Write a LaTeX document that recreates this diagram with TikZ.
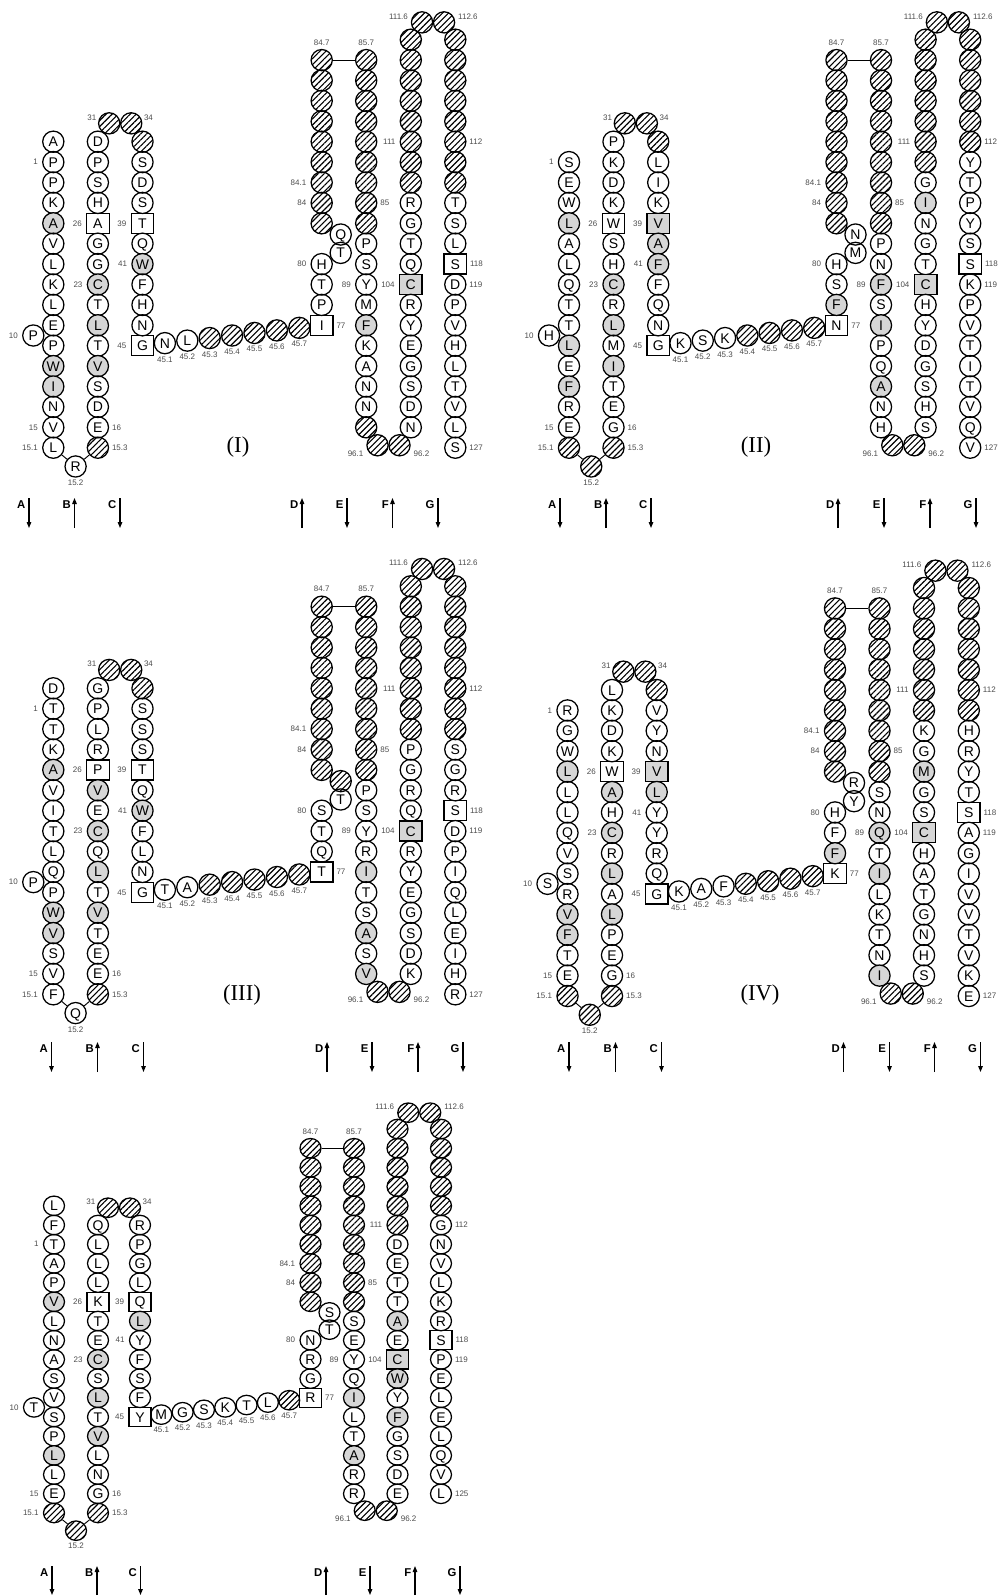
\documentclass[tikz,border=0pt]{standalone}
\usepackage{fontspec}
\setmainfont{Liberation Sans}
\newfontfamily\romanfont{Liberation Serif}
\usetikzlibrary{shapes.geometric,patterns.meta,arrows.meta}
\definecolor{shadeg}{gray}{0.84}
\definecolor{labg}{gray}{0.3}
\newcount\labn
\def\SY{20.4}\def\BW{15.9pt}\def\BH{15.9pt}\def\SW{16.9pt}\def\SH{15pt}
\tikzset{
 beadbase/.style={draw, line width=0.95pt, inner sep=0pt, text height=7.5pt, text depth=0pt, font=\fontsize{10.5}{10.5}\selectfont},
 bead/.style={beadbase, ellipse, minimum width=\BW, minimum height=\BH},
 bead-n/.style={bead},
 bead-s/.style={bead, fill=shadeg},
 sqb/.style={beadbase, rectangle, minimum width=\SW, minimum height=\SH},
 bead-q/.style={sqb},
 bead-Q/.style={sqb, fill=shadeg},
 hatchb/.style={bead, pattern={Lines[angle=45,distance=3.2pt,line width=0.85pt]}},
 lbl/.style={font=\fontsize{6}{6}\selectfont, text=labg, inner sep=0pt},
 link/.style={line width=0.7pt},
 strand/.style={line width=0.9pt, -{Triangle[length=4.5pt,width=3.4pt]}},
 strandlbl/.style={font=\fontsize{8.5}{8.5}\selectfont\bfseries, inner sep=0pt},
 plab/.style={font=\romanfont\fontsize{17}{17}\selectfont, inner sep=0pt},
}
\newcommand\setP[9]{\def\Px{#1}\def\XA{#2}\def\XB{#3}\def\XC{#4}\def\XD{#5}\def\XE{#6}\def\XF{#7}\def\XG{#8}\def\YZ{#9}}
\newcommand\Yr[1]{\YZ+\SY*(#1)}
\newcommand\bdx[5]{\if#1h\node[hatchb] (#2) at ({#3},{#4}) {};\else\node[bead-#1] (#2) at ({#3},{#4}) {#5};\fi}
\newcommand\colm[3]{\edef\cx{\csname X#1\endcsname}%
 \foreach \lt/\ty [count=\i from 0] in {#3}{\pgfmathtruncatemacro\rr{#2+\i}\expandafter\bdx\ty{\Px#1\rr}{\cx}{\Yr{\rr}}{\lt}}}
\newcommand\chain[1]{\foreach \lt/\ty [count=\i] in {#1}{\expandafter\bdx\ty{\Px h\i}{\XC+(\XD-\XC)*\i/8}{\Yr{10-\i/8}}{\lt}}}
\newcommand\labx[3]{\global\advance\labn by 1\relax\node[lbl,anchor=#1] (lab\the\labn) at (#2) {#3};}
\newcommand\stdlabels[2]{%
 \labx{east}{[xshift=-3pt]\Px A1.west}{1}
 \labx{east}{[xshift=-3pt]\Px A14.west}{15}
 \labx{east}{[xshift=-3pt]\Px A15.west}{15.1}
 \labx{east}{[xshift=-3pt]\Px t10.west}{10}
 \labx{north}{[yshift=-1.5pt]\Px t152.south}{15.2}
 \labx{east}{[xshift=-3pt]\Px B4.west}{26}
 \labx{east}{[xshift=-3pt]\Px B7.west}{23}
 \labx{west}{[xshift=2pt]\Px B14.east}{16}
 \labx{west}{[xshift=2pt]\Px B15.east}{15.3}
 \labx{east}{[xshift=-1pt,yshift=4.5pt]\Px t31.west}{31}
 \labx{west}{[xshift=1pt,yshift=4.5pt]\Px t34.east}{34}
 \labx{east}{[xshift=-3pt]\Px C4.west}{39}
 \labx{east}{[xshift=-3pt]\Px C6.west}{41}
 \labx{east}{[xshift=-3pt]\Px C10.west}{45}
 \foreach \i in {1,...,7}{\labx{north}{[yshift=-1.5pt]\Px h\i.south}{45.\i}}
 \labx{west}{[xshift=2pt]\Px D9.east}{77}
 \labx{east}{[xshift=-3pt]\Px D6.west}{80}
 \labx{east}{[xshift=-3pt]\Px D3.west}{84}
 \labx{east}{[xshift=-3pt]\Px D2.west}{84.1}
 \labx{south}{[yshift=2.5pt]\Px D-4.north}{84.7}
 \labx{south}{[yshift=2.5pt]\Px E-4.north}{85.7}
 \labx{west}{[xshift=2pt]\Px E3.east}{85}
 \labx{east}{[xshift=-3pt]\Px E7.west}{89}
 \labx{east}{[xshift=-3pt]\Px F7.west}{104}
 \labx{east}{[xshift=-3pt]\Px F0.west}{111}
 \labx{east}{[xshift=-2pt,yshift=-6pt]\Px t961.west}{96.1}
 \labx{west}{[xshift=2pt,yshift=-6pt]\Px t962.east}{96.2}
 \labx{east}{[xshift=-2pt,yshift=4.5pt]\Px t1116.west}{111.6}
 \labx{west}{[xshift=2pt,yshift=4.5pt]\Px t1126.east}{112.6}
 \labx{west}{[xshift=2pt]\Px G0.east}{112}
 \labx{west}{[xshift=2pt]\Px G6.east}{118}
 \labx{west}{[xshift=2pt]\Px G7.east}{119}
 \labx{west}{[xshift=2pt]\Px G#1.east}{#2}
}
\newcommand\extras[6]{% t10, t152, t152type, t81, t82, t82type
 \bdx{n}{\Px t10}{\XA-20}{\Yr{9.5}}{#1}
 \bdx{#3}{\Px t152}{(\XA+\XB)/2}{\Yr{15.92}}{#2}
 \bdx{h}{\Px t31}{(\XB+\XC)/2-11}{\Yr{-0.9}}{}
 \bdx{h}{\Px t34}{(\XB+\XC)/2+11}{\Yr{-0.9}}{}
 \bdx{n}{\Px t81}{\XD+19}{\Yr{5.45}}{#4}
 \bdx{#6}{\Px t82}{\XD+19}{\Yr{4.55}}{#5}
 \bdx{h}{\Px t961}{(\XE+\XF)/2-11}{\Yr{14.88}}{}
 \bdx{h}{\Px t962}{(\XE+\XF)/2+11}{\Yr{14.88}}{}
 \bdx{h}{\Px t1116}{(\XF+\XG)/2-11}{\Yr{-5.85}}{}
 \bdx{h}{\Px t1126}{(\XF+\XG)/2+11}{\Yr{-5.85}}{}
 \draw[link] (\Px A15) -- (\Px t152) -- (\Px B15);
 \draw[link] (\Px D-4) -- (\Px E-4);
}
\newcommand\strands[3]{\foreach \SL/\xx/\dd in {#3}{%
 \coordinate (\Px s\SL t) at (\xx,#1);
 \coordinate (\Px s\SL b) at (\xx,#2);
 \node[strandlbl,anchor=north east] (\Px sl\SL) at ([xshift=-2.5pt,yshift=-2pt]\Px s\SL t) {\SL};
 \if\dd u\draw[strand] (\Px s\SL b) -- (\Px s\SL t);\else\draw[strand] (\Px s\SL t) -- (\Px s\SL b);\fi}}
\begin{document}
\begin{tikzpicture}[x=0.75pt,y=-0.75pt]
\useasboundingbox (0,0) rectangle (1000,1596);
% ---------------- Panel I
\setP{p1}{53.3}{97.9}{142.5}{321.7}{366.2}{410.8}{455.3}{141.7}
\colm{A}{0}{A/n,P/n,P/n,K/n,A/s,V/n,L/n,K/n,L/n,E/n,P/n,W/s,I/s,N/n,V/n,L/n}
\colm{B}{0}{D/n,P/n,S/n,H/n,A/q,G/n,G/n,C/s,T/n,L/s,T/n,V/s,S/n,D/n,E/n,x/h}
\colm{C}{0}{x/h,S/n,D/n,S/n,T/q,Q/n,W/s,F/n,H/n,N/n,G/q}
\colm{D}{-4}{x/h,x/h,x/h,x/h,x/h,x/h,x/h,x/h,x/h}
\colm{D}{6}{H/n,T/n,P/n,I/q}
\colm{E}{-4}{x/h,x/h,x/h,x/h,x/h,x/h,x/h,x/h,x/h,P/n,S/n,Y/n,M/n,F/s,K/n,A/n,N/n,N/n,x/h}
\colm{F}{-5}{x/h,x/h,x/h,x/h,x/h,x/h,x/h,x/h,R/n,G/n,T/n,Q/n,C/Q,R/n,Y/n,E/n,G/n,S/n,D/n,N/n}
\colm{G}{-5}{x/h,x/h,x/h,x/h,x/h,x/h,x/h,x/h,T/n,S/n,L/n,S/q,D/n,P/n,V/n,H/n,L/n,T/n,V/n,L/n,S/n}
\chain{N/n,L/n,x/h,x/h,x/h,x/h,x/h}
\extras{P}{R}{n}{T}{Q}{n}
\stdlabels{15}{127}
\node[plab] (p1name) at (238,447) {(I)};
\strands{498}{528}{A/29/d,B/74.5/u,C/120/d,D/302/u,E/347/d,F/392.5/u,G/438/d}
% ---------------- Panel II
\setP{p2}{569}{613.5}{658.2}{836.5}{881}{925.6}{970.2}{141.7}
\colm{A}{1}{S/n,E/n,W/n,L/s,A/n,L/n,Q/n,T/n,T/n,L/s,E/n,F/s,R/n,E/n,x/h}
\colm{B}{0}{P/n,K/n,D/n,K/n,W/q,S/n,H/n,C/s,R/n,L/s,M/n,I/s,T/n,E/n,G/n,x/h}
\colm{C}{0}{x/h,L/n,I/n,K/n,V/Q,A/s,F/s,F/n,Q/n,N/n,G/q}
\colm{D}{-4}{x/h,x/h,x/h,x/h,x/h,x/h,x/h,x/h,x/h}
\colm{D}{6}{H/n,S/n,F/s,N/q}
\colm{E}{-4}{x/h,x/h,x/h,x/h,x/h,x/h,x/h,x/h,x/h,P/n,N/n,F/s,S/n,I/s,P/n,Q/n,A/s,N/n,H/n}
\colm{F}{-5}{x/h,x/h,x/h,x/h,x/h,x/h,x/h,G/n,I/s,N/n,G/n,T/n,C/Q,H/n,Y/n,D/n,G/n,S/n,H/n,S/n}
\colm{G}{-5}{x/h,x/h,x/h,x/h,x/h,x/h,Y/n,T/n,P/n,Y/n,S/n,S/q,K/n,P/n,V/n,T/n,I/n,T/n,V/n,Q/n,V/n}
\chain{K/n,S/n,K/n,x/h,x/h,x/h,x/h}
\extras{H}{}{h}{M}{N}{n}
\stdlabels{15}{127}
\node[plab] (p2name) at (756,447) {(II)};
\strands{498}{528}{A/560/d,B/606/u,C/651/d,D/838/u,E/884/d,F/930/u,G/976/d}
% ---------------- Panel III
\setP{p3}{53.3}{97.9}{142.5}{321.7}{366.2}{410.8}{455.3}{688.3}
\colm{A}{0}{D/n,T/n,T/n,K/n,A/s,V/n,I/n,T/n,L/n,Q/n,P/n,W/s,V/s,S/n,V/n,F/n}
\colm{B}{0}{G/n,P/n,L/n,R/n,P/q,V/s,E/n,C/s,Q/n,L/s,T/n,V/s,T/n,E/n,E/n,x/h}
\colm{C}{0}{x/h,S/n,S/n,S/n,T/q,Q/n,W/s,F/n,L/n,N/n,G/q}
\colm{D}{-4}{x/h,x/h,x/h,x/h,x/h,x/h,x/h,x/h,x/h}
\colm{D}{6}{S/n,T/n,Q/n,T/q}
\colm{E}{-4}{x/h,x/h,x/h,x/h,x/h,x/h,x/h,x/h,x/h,P/n,S/n,Y/n,R/n,I/s,T/n,S/n,A/s,S/n,V/s}
\colm{F}{-5}{x/h,x/h,x/h,x/h,x/h,x/h,x/h,x/h,P/n,G/n,R/n,Q/n,C/Q,R/n,Y/n,E/n,G/n,S/n,D/n,K/n}
\colm{G}{-5}{x/h,x/h,x/h,x/h,x/h,x/h,x/h,x/h,S/n,G/n,R/n,S/q,D/n,P/n,I/n,Q/n,L/n,E/n,I/n,H/n,R/n}
\chain{T/n,A/n,x/h,x/h,x/h,x/h,x/h}
\extras{P}{Q}{n}{T}{}{h}
\stdlabels{15}{127}
\node[plab] (p3name) at (242,995) {(III)};
\strands{1042}{1072}{A/51.5/d,B/97.5/u,C/143.5/d,D/327/u,E/372/d,F/418/u,G/463/d}
% ---------------- Panel IV
\setP{p4}{567.5}{612}{656.7}{835}{879.5}{924}{968.8}{690}
\colm{A}{1}{R/n,G/n,W/n,L/s,L/n,L/n,Q/n,V/n,S/n,R/n,V/s,F/s,T/n,E/n,x/h}
\colm{B}{0}{L/n,K/n,D/n,K/n,W/q,A/s,H/n,C/s,R/n,L/s,A/n,L/s,P/n,E/n,G/n,x/h}
\colm{C}{0}{x/h,V/n,Y/n,N/n,V/Q,L/s,Y/n,Y/n,R/n,Q/n,G/q}
\colm{D}{-4}{x/h,x/h,x/h,x/h,x/h,x/h,x/h,x/h,x/h}
\colm{D}{6}{H/n,F/n,F/s,K/q}
\colm{E}{-4}{x/h,x/h,x/h,x/h,x/h,x/h,x/h,x/h,x/h,S/n,N/n,Q/s,T/n,I/s,L/n,K/n,T/n,N/n,I/s}
\colm{F}{-5}{x/h,x/h,x/h,x/h,x/h,x/h,x/h,K/n,G/n,M/s,G/n,S/n,C/Q,H/n,A/n,T/n,G/n,N/n,H/n,S/n}
\colm{G}{-5}{x/h,x/h,x/h,x/h,x/h,x/h,x/h,H/n,R/n,Y/n,T/n,S/q,A/n,G/n,I/n,V/n,V/n,T/n,V/n,K/n,E/n}
\chain{K/n,A/n,F/n,x/h,x/h,x/h,x/h}
\extras{S}{}{h}{Y}{R}{n}
\stdlabels{15}{127}
\node[plab] (p4name) at (760,995) {(IV)};
\strands{1042}{1072}{A/569/d,B/615.5/u,C/661.5/d,D/843.5/u,E/889.5/d,F/934.5/u,G/980.5/d}
% ---------------- Panel V
\def\SY{19.2}\def\BW{15.75pt}\def\BH{14.6pt}\def\SW{16.5pt}\def\SH{14.25pt}
\setP{p5}{54}{98}{140}{310.5}{354}{397.5}{441}{1225}
\colm{A}{-1}{L/n,F/n,T/n,A/n,P/n,V/s,L/n,N/n,A/n,S/n,V/n,S/n,P/n,L/s,L/n,E/n,x/h}
\colm{B}{0}{Q/n,L/n,L/n,L/n,K/q,T/n,E/n,C/s,S/n,L/s,T/n,V/s,L/n,N/n,G/n,x/h}
\colm{C}{0}{R/n,P/n,G/n,L/n,Q/q,L/s,Y/n,F/n,S/n,F/n,Y/q}
\colm{D}{-4}{x/h,x/h,x/h,x/h,x/h,x/h,x/h,x/h,x/h}
\colm{D}{6}{N/n,R/n,G/n,R/q}
\colm{E}{-4}{x/h,x/h,x/h,x/h,x/h,x/h,x/h,x/h,x/h,S/n,E/n,Y/n,Q/n,I/s,L/n,T/n,A/s,R/n,R/n}
\colm{F}{-5}{x/h,x/h,x/h,x/h,x/h,x/h,D/n,E/n,T/n,T/n,A/s,E/n,C/Q,W/s,Y/n,F/s,G/n,S/n,D/n,E/n}
\colm{G}{-5}{x/h,x/h,x/h,x/h,x/h,G/n,N/n,V/n,L/n,K/n,R/n,S/q,P/n,E/n,L/n,E/n,L/n,Q/n,V/n,L/n}
\chain{M/n,G/n,S/n,K/n,T/n,L/n,x/h}
\extras{T}{}{h}{T}{S}{n}
\stdlabels{14}{125}
\strands{1566}{1595}{A/52/d,B/97/u,C/140.5/d,D/326/u,E/370/d,F/415/u,G/460/d}
\end{tikzpicture}
\end{document}
